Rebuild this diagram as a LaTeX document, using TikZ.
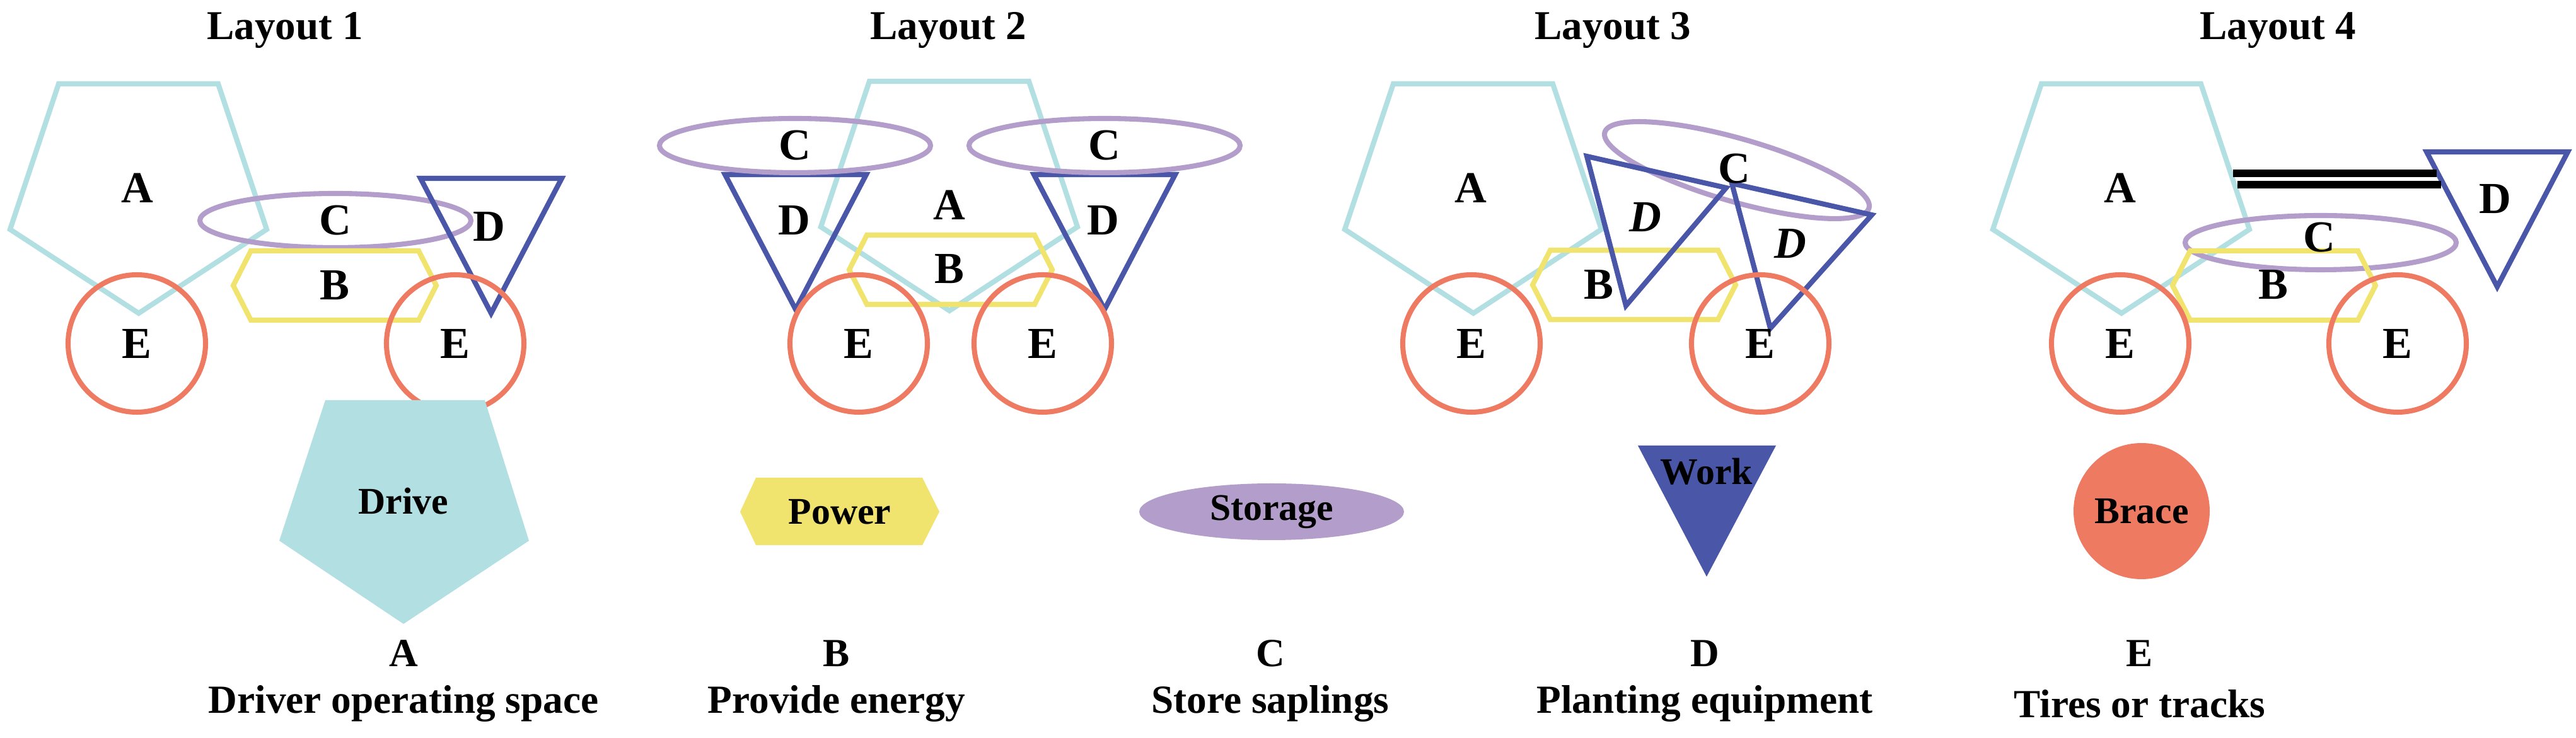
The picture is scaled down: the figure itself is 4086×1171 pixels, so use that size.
\documentclass[tikz,border=0pt]{standalone}
\usepackage{fontspec}
\setmainfont{Liberation Serif}
\usepackage{tikz}

\definecolor{driveclr}{HTML}{B1DFE2}
\definecolor{powerclr}{HTML}{F0E36E}
\definecolor{storeclr}{HTML}{B39DCB}
\definecolor{workclr}{HTML}{4A57A8}
\definecolor{braceclr}{HTML}{EE7A62}

\tikzset{
  part/.style={line width=2.3pt, line join=miter},
  lbl/.style={font=\fontsize{20}{22}\selectfont\bfseries, inner sep=0pt},
  title/.style={font=\fontsize{18.5}{20}\selectfont\bfseries, inner sep=0pt},
  key/.style={font=\fontsize{17}{19}\selectfont\bfseries, inner sep=0pt},
  caption/.style={font=\fontsize{18}{20}\selectfont\bfseries, inner sep=0pt}
}

% shapes, given by their centre
\newcommand{\pentA}[3][]{\draw[part,driveclr,#1] (#2,#3) ++(-127,-167) -- ++(253,0) -- ++(77,231) -- ++(-203,133) -- ++(-204,-133) -- cycle;}
\newcommand{\hexB}[3][]{\draw[part,powerclr,#1] (#2,#3) ++(-133,-55) -- ++(266,0) -- ++(28,55) -- ++(-28,55) -- ++(-266,0) -- ++(-28,-55) -- cycle;}
\newcommand{\ellC}[3][]{\draw[part,storeclr,#1] (#2,#3) ellipse [x radius=215, y radius=43];}
\newcommand{\triD}[3][]{\draw[part,workclr,#1] (#2,#3) ++(-112,0) -- ++(224,0) -- ++(-112,214) -- cycle;}
\newcommand{\cirE}[3][]{\draw[part,braceclr,#1] (#2,#3) circle [radius=109];}

\begin{document}
\begin{tikzpicture}[x=0.01cm, y=-0.01cm]
  \useasboundingbox (0,0) rectangle (4086,1171);

  % titles
  \node[title] (t1) at (452,48) {Layout 1};
  \node[title] (t2) at (1504,48) {Layout 2};
  \node[title] (t3) at (2558,48) {Layout 3};
  \node[title] (t4) at (3613,48) {Layout 4};

  % Layout 1
  \pentA{220}{300}
  \ellC{532}{350}
  \hexB{531}{453}
  \triD{779}{283}
  \cirE{217}{545}
  \cirE{722}{545}
  \node[lbl] (a1) at (218,298) {A};
  \node[lbl] (c1) at (532,350) {C};
  \node[lbl] (b1) at (531,453) {B};
  \node[lbl] (d1) at (776,360) {D};
  \node[lbl] (e1) at (217,545) {E};
  \node[lbl] (f1) at (722,545) {E};

  % Layout 2
  \pentA{1506}{296}
  \hexB{1508}{428}
  \triD{1262}{277}
  \triD{1752}{277}
  \ellC{1261}{231}
  \ellC{1752}{231}
  \cirE{1362}{545}
  \cirE{1654}{545}
  \node[lbl] (a2) at (1506,325) {A};
  \node[lbl] (b2) at (1506,427) {B};
  \node[lbl] (c2) at (1261,231) {C};
  \node[lbl] (g2) at (1752,231) {C};
  \node[lbl] (d2) at (1260,350) {D};
  \node[lbl] (h2) at (1750,350) {D};
  \node[lbl] (e2) at (1362,545) {E};
  \node[lbl] (f2) at (1654,545) {E};

  % Layout 3
  \pentA{2337}{300}
  \hexB{2592}{452}
  \draw[part,storeclr] (2755,270) ellipse [x radius=218, y radius=50, rotate=-16];
  \draw[part,workclr] (2517,248) -- (2738,298) -- (2579,485) -- cycle;
  \draw[part,workclr] (2747,291) -- (2969,341) -- (2808,521) -- cycle;
  \cirE{2334}{545}
  \cirE{2792}{545}
  \node[lbl] (a3) at (2333,298) {A};
  \node[lbl] (b3) at (2536,452) {B};
  \node[lbl] (c3) at (2751,268) {C};
  \node[lbl] (d3) at (2610,345) {\itshape D};
  \node[lbl] (h3) at (2840,387) {\itshape D};
  \node[lbl] (e3) at (2334,545) {E};
  \node[lbl] (f3) at (2792,545) {E};

  % Layout 4
  \pentA{3365}{300}
  \ellC{3681}{385}
  \hexB{3607}{453}
  \triD{3961}{241}
  \cirE{3363}{545}
  \cirE{3803}{545}
  \coordinate (r1) at (3542,275);
  \coordinate (r2) at (3549,293);
  \draw[line width=3.2pt] (r1) -- (3865,275);
  \draw[line width=3.2pt] (r2) -- (3872,293);
  \node[lbl] (a4) at (3363,298) {A};
  \node[lbl] (c4) at (3679,377) {C};
  \node[lbl] (b4) at (3606,452) {B};
  \node[lbl] (d4) at (3958,316) {D};
  \node[lbl] (e4) at (3363,545) {E};
  \node[lbl] (f4) at (3803,545) {E};

  % key
  \fill[driveclr] (516,635) -- (769,635) -- (839,858) -- (640,990) -- (443,858) -- cycle;
  \node[key] (drive) at (640,795) {Drive};
  \fill[powerclr] (1199,758) -- (1463,758) -- (1490,812) -- (1463,865) -- (1199,865) -- (1174,812) -- cycle;
  \node[key] (power) at (1332,812) {Power};
  \fill[storeclr] (2017,812) ellipse [x radius=210, y radius=45];
  \node[key] (storage) at (2017,812) {Storage};
  \fill[workclr] (2598,707) -- (2817,707) -- (2707,915) -- cycle;
  \node[key] (work) at (2707,748) {Work};
  \fill[braceclr] (3397,811) circle [radius=108];
  \node[key] (brace) at (3397,811) {Brace};

  % captions
  \foreach \n/\x/\l/\t in {ka/640/A/Driver operating space, kb/1327/B/Provide energy,
      kc/2015/C/Store saplings, kd/2704/D/Planting equipment, ke/3394/E/Tires or tracks}{
    \node[caption] (\n) at (\x,1037) {\l};
    \node[caption] (\n t) at (\x,1117) {\t};
  }
\end{tikzpicture}
\end{document}
